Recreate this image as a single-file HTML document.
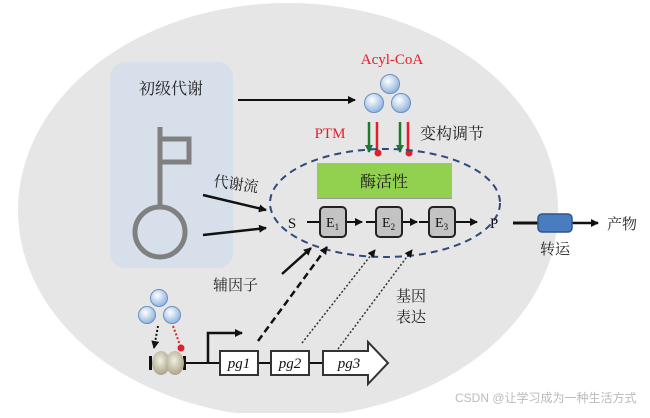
<!DOCTYPE html>
<html><head><meta charset="utf-8"><style>
body{margin:0;background:#fff}
svg text{font-family:"Liberation Serif","Noto Serif CJK SC",serif}
</style></head><body>
<svg width="650" height="413" viewBox="0 0 650 413" xmlns="http://www.w3.org/2000/svg">
<defs>
<marker id="a" markerWidth="8" markerHeight="8" refX="7" refY="4" orient="auto" markerUnits="userSpaceOnUse"><path d="M0,0 L8,4 L0,8 z" fill="#111"/></marker>
<marker id="g" markerWidth="8" markerHeight="8" refX="7" refY="4" orient="auto" markerUnits="userSpaceOnUse"><path d="M0,0 L8,4 L0,8 z" fill="#1a7a30"/></marker>
<radialGradient id="b" cx="40%" cy="35%" r="65%"><stop offset="0" stop-color="#fff"/><stop offset="1" stop-color="#8fb4e0"/></radialGradient>
<radialGradient id="n" cx="45%" cy="40%" r="60%"><stop offset="0" stop-color="#f2efe0"/><stop offset="1" stop-color="#a9a48a"/></radialGradient>
</defs>
<ellipse cx="288" cy="210" rx="270" ry="207" fill="#e7e6e7"/>
<rect x="110" y="62" width="123" height="206" rx="15" fill="#d6dfea"/>
<text x="171" y="94" font-size="16" text-anchor="middle" fill="#222">初级代谢</text>
<g stroke="#808080" stroke-width="5" fill="none">
<path d="M160 127 V207"/><path d="M160 139 H189 V162 H160"/><circle cx="160" cy="232" r="25"/></g>
<line x1="238" y1="100" x2="355" y2="100" stroke="#111" stroke-width="2" marker-end="url(#a)"/>
<text x="392" y="64" font-size="15" text-anchor="middle" fill="#e0202a">Acyl-CoA</text>
<g fill="url(#b)" stroke="#6b8fbf" stroke-width="1"><circle cx="390" cy="84" r="9.5"/><circle cx="374" cy="103" r="9.5"/><circle cx="401" cy="103" r="9.5"/></g>
<text x="330" y="138" font-size="15" text-anchor="middle" fill="#e0202a">PTM</text>
<line x1="369" y1="122" x2="369" y2="152" stroke="#1a7a30" stroke-width="2.5" marker-end="url(#g)"/>
<line x1="400" y1="122" x2="400" y2="152" stroke="#1a7a30" stroke-width="2.5" marker-end="url(#g)"/>
<line x1="377" y1="122" x2="377" y2="152" stroke="#e0202a" stroke-width="2.5"/><circle cx="378" cy="153" r="3.5" fill="#e0202a"/>
<line x1="408" y1="122" x2="408" y2="152" stroke="#e0202a" stroke-width="2.5"/><circle cx="409" cy="153" r="3.5" fill="#e0202a"/>
<text x="420" y="139" font-size="16" fill="#222">变构调节</text>
<ellipse cx="385" cy="203" rx="115" ry="54" fill="none" stroke="#2e4a7a" stroke-width="2" stroke-dasharray="7,5"/>
<rect x="317" y="163" width="135" height="35" fill="#92d050"/>
<line x1="317" y1="198.5" x2="452" y2="198.5" stroke="#999" stroke-width="1"/>
<text x="384" y="187" font-size="16" text-anchor="middle" fill="#222">酶活性</text>
<text x="292" y="228" font-size="15" text-anchor="middle" fill="#111">S</text>
<text x="494" y="228" font-size="15" text-anchor="middle" fill="#111">P</text>
<g stroke="#111" stroke-width="2">
<line x1="307" y1="222" x2="320" y2="222"/>
<line x1="346" y1="222" x2="362" y2="222" marker-end="url(#a)"/>
<line x1="366" y1="222" x2="376" y2="222"/>
<line x1="402" y1="222" x2="417" y2="222" marker-end="url(#a)"/>
<line x1="419" y1="222" x2="429" y2="222"/>
<line x1="455" y1="222" x2="477" y2="222" marker-end="url(#a)"/>
</g>
<g fill="#c3c3c3" stroke="#222" stroke-width="2">
<rect x="320" y="207" width="26" height="30" rx="4"/><rect x="376" y="207" width="26" height="30" rx="4"/><rect x="429" y="207" width="26" height="30" rx="4"/></g>
<g font-size="14" fill="#111"><text x="326" y="227">E<tspan font-size="9" dy="3">1</tspan></text><text x="382" y="227">E<tspan font-size="9" dy="3">2</tspan></text><text x="435" y="227">E<tspan font-size="9" dy="3">3</tspan></text></g>
<line x1="513" y1="223" x2="538" y2="223" stroke="#111" stroke-width="3"/>
<line x1="572" y1="223" x2="598" y2="223" stroke="#111" stroke-width="2.5" marker-end="url(#a)"/>
<rect x="538" y="214" width="34" height="18" rx="4" fill="#4a7cc0" stroke="#2d5590" stroke-width="1.5"/>
<text x="607" y="229" font-size="15" fill="#222">产物</text>
<text x="555" y="254" font-size="15" text-anchor="middle" fill="#222">转运</text>
<text x="213" y="186" font-size="15" fill="#222" transform="rotate(8 213 186)">代谢流</text>
<line x1="203" y1="195" x2="266" y2="210" stroke="#111" stroke-width="2.5" marker-end="url(#a)"/>
<line x1="203" y1="235" x2="266" y2="228" stroke="#111" stroke-width="2.5" marker-end="url(#a)"/>
<line x1="282" y1="274" x2="311" y2="248" stroke="#111" stroke-width="2.5" marker-end="url(#a)"/>
<text x="213" y="290" font-size="15" fill="#222">辅因子</text>
<line x1="258" y1="341" x2="327" y2="247" stroke="#111" stroke-width="2.5" stroke-dasharray="7,4" marker-end="url(#a)"/>
<line x1="302" y1="343" x2="375" y2="250" stroke="#333" stroke-width="1.5" stroke-dasharray="2,2" marker-end="url(#a)"/>
<line x1="338" y1="349" x2="412" y2="250" stroke="#333" stroke-width="1.5" stroke-dasharray="2,2" marker-end="url(#a)"/>
<text x="396" y="301" font-size="15" fill="#222">基因</text>
<text x="396" y="322" font-size="15" fill="#222">表达</text>
<g fill="url(#b)" stroke="#6b8fbf" stroke-width="1"><circle cx="159" cy="298" r="8.5"/><circle cx="147" cy="315" r="8.5"/><circle cx="172" cy="315" r="8.5"/></g>
<line x1="158" y1="326" x2="154" y2="348" stroke="#111" stroke-width="2" stroke-dasharray="2,2" marker-end="url(#a)"/>
<line x1="173" y1="326" x2="180" y2="345" stroke="#e0202a" stroke-width="2" stroke-dasharray="2,2"/>
<circle cx="181" cy="348" r="3.5" fill="#e0202a"/>
<line x1="150" y1="363" x2="220" y2="363" stroke="#111" stroke-width="2"/>
<rect x="149" y="356" width="3" height="14" fill="#111"/><rect x="183" y="356" width="3" height="14" fill="#111"/>
<ellipse cx="161" cy="363" rx="9" ry="12" fill="url(#n)"/><ellipse cx="175" cy="363" rx="9" ry="12" fill="url(#n)"/>
<path d="M208 363 V333 H242" stroke="#111" stroke-width="2.5" fill="none" marker-end="url(#a)"/>
<line x1="258" y1="363" x2="271" y2="363" stroke="#111" stroke-width="2"/>
<line x1="309" y1="363" x2="323" y2="363" stroke="#111" stroke-width="2"/>
<rect x="220" y="351" width="38" height="24" fill="#fff" stroke="#333" stroke-width="2"/>
<rect x="271" y="351" width="38" height="24" fill="#fff" stroke="#333" stroke-width="2"/>
<path d="M323 351 H368 V342 L388 363 L368 384 V375 H323 z" fill="#fff" stroke="#333" stroke-width="2"/>
<g font-size="15" font-style="italic" fill="#111" text-anchor="middle"><text x="239" y="368">pg1</text><text x="290" y="368">pg2</text><text x="349" y="368">pg3</text></g>
<text x="455" y="402" font-size="12" fill="#bbb" style="font-family:'Liberation Sans','Noto Sans CJK SC',sans-serif">CSDN @让学习成为一种生活方式</text>
</svg>
</body></html>
